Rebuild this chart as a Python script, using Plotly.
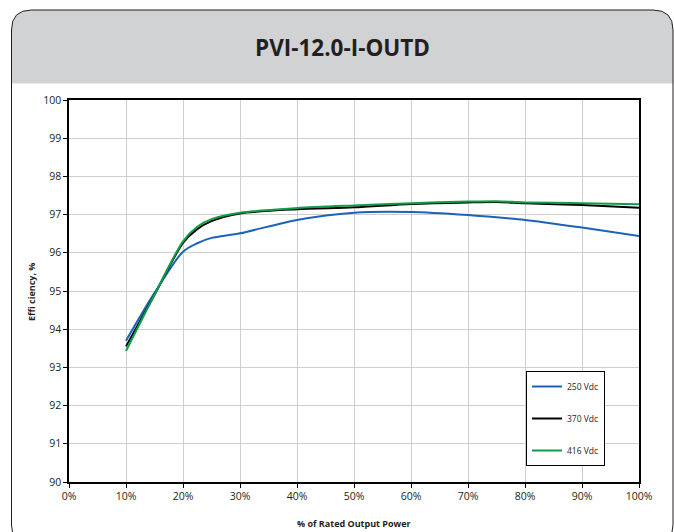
import plotly.graph_objects as go

# ---- data ----
load_pct = [10, 15, 20, 22.5, 25, 30, 40, 50, 60, 70, 75, 80, 90, 100]
eff_250 = [93.70, 94.95, 96.03, 96.25, 96.39, 96.51, 96.86, 97.05, 97.07, 96.99, 96.93, 96.86, 96.66, 96.44]
eff_370 = [93.55, 94.90, 96.26, 96.62, 96.83, 97.03, 97.14, 97.19, 97.28, 97.32, 97.33, 97.30, 97.25, 97.18]
eff_416 = [93.43, 94.90, 96.30, 96.68, 96.88, 97.05, 97.17, 97.24, 97.30, 97.34, 97.35, 97.32, 97.30, 97.27]
series_names = ["250 Vdc", "370 Vdc", "416 Vdc"]
series_colors = ["#1c63b7", "#000000", "#0f9d4a"]
x_ticks = list(range(0, 101, 10))
x_tick_labels = [f"{v}%" for v in x_ticks]
y_ticks = list(range(90, 101, 1))

W, H = 674, 532
PL, PR, PT, PB = 69, 639, 100, 482          # plot area in pixels
ML, MT = PL, PT
MR, MB = W - PR, H - PB
PW = PR - PL
PH = PB - PT


def px(x):
    return (x - PL) / PW


def py(y):
    return (PB - y) / PH


def rounded_path(x0, y0, x1, y1, r, bottom_round=True):
    pts = [f"M {px(x0)},{py(y0 + r)}",
           f"Q {px(x0)},{py(y0)} {px(x0 + r)},{py(y0)}",
           f"L {px(x1 - r)},{py(y0)}",
           f"Q {px(x1)},{py(y0)} {px(x1)},{py(y0 + r)}"]
    if bottom_round:
        pts += [f"L {px(x1)},{py(y1 - r)}",
                f"Q {px(x1)},{py(y1)} {px(x1 - r)},{py(y1)}",
                f"L {px(x0 + r)},{py(y1)}",
                f"Q {px(x0)},{py(y1)} {px(x0)},{py(y1 - r)}"]
    else:
        pts += [f"L {px(x1)},{py(y1)}", f"L {px(x0)},{py(y1)}"]
    pts.append("Z")
    return " ".join(pts)


fig = go.Figure()
for name, vals, col in zip(series_names, [eff_250, eff_370, eff_416], series_colors):
    fig.add_trace(go.Scatter(
        x=load_pct, y=vals, name=name, mode="lines",
        line=dict(color=col, width=2, shape="spline", smoothing=0.8),
        legendgroup=name,
    ))

font_fam = "Open Sans, sans-serif"

fig.update_layout(
    width=W, height=H,
    margin=dict(l=ML, r=MR, t=MT, b=MB, pad=0, autoexpand=False),
    paper_bgcolor="white",
    plot_bgcolor="white",
    font=dict(family=font_fam, size=10.5, color="#231f20"),
    showlegend=True,
    legend=dict(
        x=px(526), y=py(371), xanchor="left", yanchor="top",
        bgcolor="white", bordercolor="#000000", borderwidth=1,
        font=dict(size=8.5, family=font_fam, color="#231f20"),
        traceorder="grouped", tracegroupgap=13,
        itemwidth=30,
    ),
    shapes=[
        dict(type="path", xref="paper", yref="paper", layer="below",
             path=rounded_path(11.5, 10, 673, 83.5, 20, bottom_round=False),
             fillcolor="#d1d2d4", line=dict(width=0)),
        dict(type="path", xref="paper", yref="paper", layer="above",
             path=rounded_path(11.5, 10, 673, 545, 20),
             fillcolor="rgba(0,0,0,0)", line=dict(color="#231f20", width=1)),
    ],
    annotations=[
        dict(text="<b>PVI-12.0-I-OUTD</b>", xref="paper", yref="paper",
             x=px(342), y=py(48), xanchor="center", yanchor="middle",
             showarrow=False, font=dict(size=22.5, family=font_fam, color="#231f20")),
        dict(text="<b>% of Rated Output Power</b>", xref="paper", yref="paper",
             x=px(354), y=py(523), xanchor="center", yanchor="middle",
             showarrow=False, font=dict(size=9, family=font_fam, color="#231f20")),
        dict(text="<b>Effi ciency, %</b>", xref="paper", yref="paper",
             x=px(31), y=py(292), xanchor="center", yanchor="middle", textangle=-90,
             showarrow=False, font=dict(size=9, family=font_fam, color="#231f20")),
    ],
)

fig.update_xaxes(
    range=[0, 100], tickmode="array", tickvals=x_ticks, ticktext=x_tick_labels,
    showgrid=True, gridcolor="#cfcfcf", gridwidth=1,
    showline=True, linecolor="#000000", linewidth=1.5, mirror=True,
    ticks="outside", ticklen=4, tickcolor="#000000",
    zeroline=False, automargin=False, fixedrange=True,
)
fig.update_yaxes(
    range=[90, 100], tickmode="array", tickvals=y_ticks,
    showgrid=True, gridcolor="#cfcfcf", gridwidth=1,
    showline=True, linecolor="#000000", linewidth=1.5, mirror=True,
    ticks="outside", ticklen=4, tickcolor="#000000",
    zeroline=False, automargin=False, fixedrange=True,
)

fig.write_html(
    "out.html",
    config={"displayModeBar": False},
    post_script="document.body.style.margin='0';document.body.style.overflow='hidden';",
)
